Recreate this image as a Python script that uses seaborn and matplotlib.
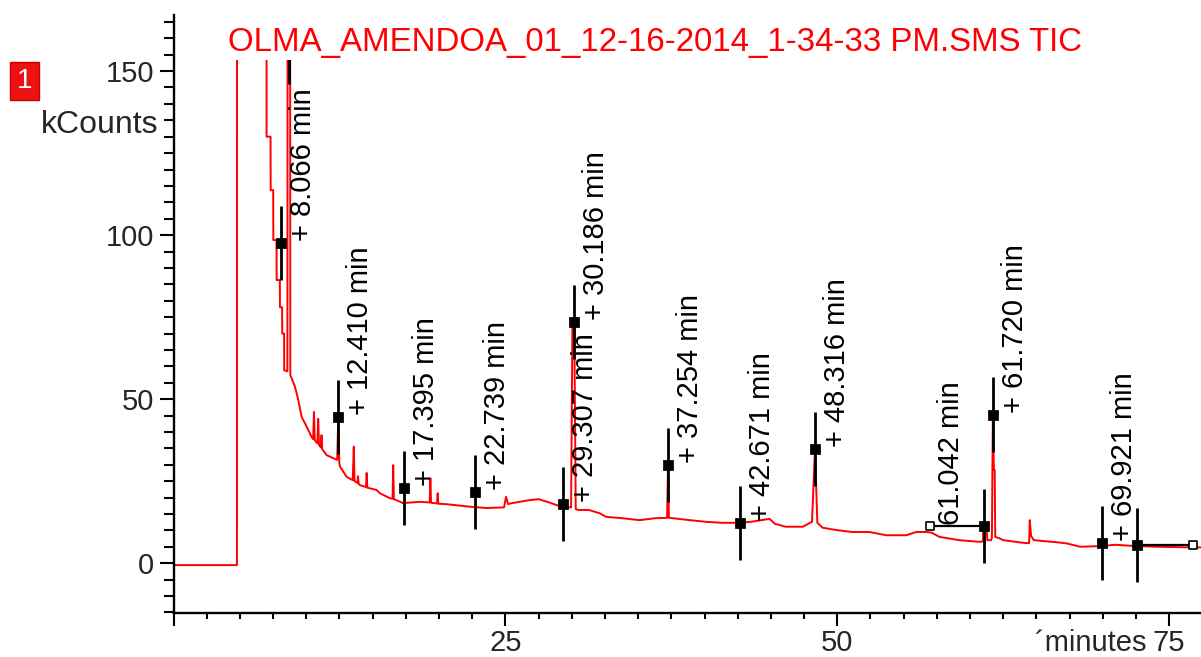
import numpy as np
import pandas as pd
import matplotlib
matplotlib.use("Agg")
import matplotlib.pyplot as plt
from matplotlib.ticker import MultipleLocator, FixedLocator
from matplotlib.transforms import Bbox, TransformedBbox
from matplotlib.patches import Rectangle
import seaborn as sns

# ---- total ion current trace (minutes, kCounts) ----
trace_min = [
    0.00, 4.78, 4.79, 7.00, 7.01, 7.31, 7.32, 7.51, 7.52, 7.76,
    7.77, 8.01, 8.02, 8.18, 8.19, 8.33, 8.34, 8.58, 8.62, 8.76,
    8.80, 9.15, 9.40, 9.65, 10.03, 10.40, 10.52, 10.58, 10.64, 10.84,
    10.90, 10.96, 11.10, 11.15, 11.20, 11.54, 12.03, 12.33, 12.41, 12.49,
    12.55, 13.04, 13.50, 13.58, 13.64, 13.85, 13.90, 13.95, 14.04, 14.50,
    14.55, 14.60, 15.30, 15.55, 16.30, 16.50, 16.55, 16.60, 17.30, 18.56,
    19.30, 19.35, 19.40, 19.85, 19.90, 19.95, 20.50, 22.33, 23.58, 24.90,
    25.05, 25.20, 25.50, 26.80, 27.50, 28.30, 29.20, 29.95, 30.05, 30.19,
    30.30, 30.50, 31.30, 32.10, 32.60, 33.80, 35.10, 36.30, 37.18, 37.25,
    37.32, 37.60, 38.90, 40.10, 41.30, 42.60, 43.50, 44.90, 45.30, 46.10,
    47.40, 48.10, 48.32, 48.50, 48.90, 49.90, 51.10, 52.40, 53.70, 55.20,
    55.96, 56.70, 57.10, 57.70, 59.20, 60.70, 60.98, 61.00, 61.25, 61.30,
    61.60, 61.65, 61.72, 61.80, 61.86, 61.90, 62.20, 62.50, 64.20, 64.45,
    64.50, 64.60, 64.80, 66.70, 67.30, 68.30, 69.90, 70.90, 72.50, 74.00,
    76.70, 77.40,
]
trace_kcounts = [
    -0.6, -0.6, 400.0, 400.0, 130.0, 130.0, 113.7, 113.7, 98.5, 98.5,
    86.3, 86.3, 78.0, 78.0, 70.0, 70.0, 58.8, 58.5, 400.0, 400.0,
    57.3, 53.8, 49.7, 44.6, 41.6, 38.5, 37.8, 46.1, 37.5, 36.5,
    44.0, 36.0, 35.3, 39.0, 34.8, 32.9, 32.0, 31.5, 44.5, 30.5,
    29.4, 26.3, 25.3, 35.5, 25.0, 24.5, 26.5, 24.2, 23.8, 23.2,
    27.5, 23.0, 22.3, 21.3, 19.8, 19.6, 29.9, 19.5, 18.3, 18.7,
    18.5, 25.9, 18.4, 18.2, 21.3, 18.1, 18.0, 17.2, 16.8, 17.0,
    20.2, 18.0, 18.3, 19.2, 19.5, 18.5, 17.2, 17.0, 73.5, 73.5,
    16.5, 16.2, 16.2, 15.2, 14.1, 13.7, 13.1, 13.7, 13.8, 29.9,
    13.8, 13.7, 13.1, 12.6, 12.3, 12.3, 12.6, 13.5, 12.0, 11.1,
    11.1, 12.6, 34.8, 12.3, 10.8, 10.1, 9.5, 9.5, 8.5, 8.5,
    9.5, 9.5, 9.3, 8.0, 7.0, 6.5, 6.6, 12.2, 12.2, 7.0,
    7.0, 8.0, 45.3, 28.4, 28.4, 8.0, 7.6, 7.0, 6.1, 6.1,
    13.1, 8.3, 7.0, 6.3, 6.0, 5.0, 5.2, 5.6, 5.2, 5.0,
    4.8, 4.8,
]

# ---- integration marks ----
peak_min = [8.066, 12.410, 17.395, 22.739, 29.307, 30.186,
            37.254, 42.671, 48.316, 61.042, 61.720, 69.921]
peak_kcounts = [97.6, 44.5, 22.9, 21.7, 18.0, 73.5,
                29.9, 12.3, 34.8, 11.3, 45.3, 6.2]
# marks without a retention-time label
extra_min = [8.70, 72.57]
extra_kcounts = [157.5, 5.4]
# baseline segments: (open-square end, filled-mark end, level)
segment_start = [56.97, 72.57]
segment_end = [61.042, 76.77]
segment_kcounts = [11.3, 5.4]

title = "OLMA_AMENDOA_01_12-16-2014_1-34-33 PM.SMS TIC"
x_major = [0, 25, 50, 75]
x_major_labels = ["", "25", "50", "75"]
y_major = [0, 50, 100, 150]

RED = "#ff0000"

sns.set_style("ticks")
plt.rcParams["font.family"] = ["Liberation Sans", "DejaVu Sans"]

fig = plt.figure(figsize=(12.01, 6.57), dpi=100)
W, H = 1201, 657
ax = fig.add_axes([173.5 / W, 1 - 613 / H, 1 - 173.5 / W, (613 - 15) / H])
ax.set_facecolor("white")
fig.patch.set_facecolor("white")

xmax, ymin, ymax, yclip = 77.4, -15.2, 167.1, 153.4
ax.set_xlim(0, xmax)
ax.set_ylim(ymin, ymax)
clip = TransformedBbox(Bbox.from_extents(0, ymin, xmax, yclip), ax.transData)

df = pd.DataFrame({"minutes": trace_min, "kCounts": trace_kcounts})
sns.lineplot(data=df, x="minutes", y="kCounts", sort=False, estimator=None,
             color=RED, lw=1.4, ax=ax, zorder=2)
ax.lines[-1].set_clip_box(clip)

# vertical bars through each mark
half = 11.3
all_min = peak_min + extra_min
all_k = peak_kcounts + extra_kcounts
vl = ax.vlines(all_min, np.array(all_k) - half, np.array(all_k) + half,
               color="black", lw=2.0, zorder=3)
vl.set_clip_box(clip)

# baseline segments with open squares at the far end
ax.hlines(segment_kcounts, segment_start, segment_end, color="black", lw=1.6, zorder=3)
sns.scatterplot(x=[segment_start[0], segment_end[1]], y=segment_kcounts,
                marker="s", s=28, facecolor="white", edgecolor="black",
                linewidth=1.2, ax=ax, zorder=4)
sns.scatterplot(x=all_min, y=all_k, marker="s", s=46, color="black",
                edgecolor="black", ax=ax, zorder=5)
ax.collections[-1].set_clip_box(clip)

# retention-time labels
for t, k in zip(peak_min, peak_kcounts):
    if abs(t - 61.042) < 1e-6:
        txt, dx, dy = f"{t:.3f} min", -33, 1
    else:
        txt, dx, dy = f"+ {t:.3f} min", 22, 2
    ax.annotate(txt, xy=(t, k), xytext=(dx, dy), textcoords="offset pixels",
                rotation=90, rotation_mode="anchor", ha="left", va="center",
                fontsize=21, color="black", zorder=6)

# axes styling
for s in ("top", "right"):
    ax.spines[s].set_visible(False)
for s in ("left", "bottom"):
    ax.spines[s].set_linewidth(1.7)
    ax.spines[s].set_color("black")

ax.xaxis.set_major_locator(FixedLocator(x_major))
ax.set_xticklabels(x_major_labels)
ax.xaxis.set_minor_locator(MultipleLocator(2.5))
ax.yaxis.set_major_locator(FixedLocator(y_major))
ax.set_yticklabels([str(v) for v in y_major])
ax.yaxis.set_minor_locator(MultipleLocator(5))
ax.tick_params(axis="x", which="major", length=9.5, width=1.5, labelsize=21, pad=2,
               direction="out", color="black")
ax.tick_params(axis="x", which="minor", length=4.5, width=1.5, direction="out", color="black")
ax.tick_params(axis="y", which="major", length=10, width=1.5, labelsize=21, pad=4,
               direction="out", color="black")
ax.tick_params(axis="y", which="minor", length=7.5, width=1.5, direction="out", color="black")
ax.set_xlabel("")
ax.set_ylabel("")

# header and axis captions
fig.text(655 / W, 1 - 43 / H, title, ha="center", va="center", color=RED, fontsize=23.8)
fig.text(158 / W, 1 - 125 / H, "kCounts", ha="right", va="center", fontsize=23)
fig.text(1146 / W, 1 - 643 / H, "´minutes", ha="right", va="center", fontsize=21)
fig.add_artist(Rectangle((10 / W, 1 - 100 / H), 29 / W, 38 / H,
                         transform=fig.transFigure, facecolor="#ee1111",
                         edgecolor="#cc0000", lw=1))
fig.text(24.5 / W, 1 - 81 / H, "1", ha="center", va="center", color="white", fontsize=20)

fig.savefig("out.png", dpi=100, facecolor="white")
